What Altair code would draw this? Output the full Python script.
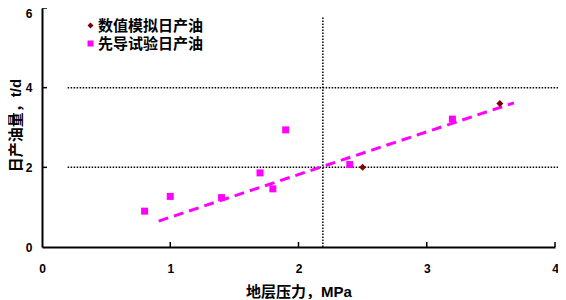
import altair as alt
import pandas as pd

series_names = ["数值模拟日产油", "先导试验日产油"]
sim_x = [2.5, 3.57]
sim_y = [2.0, 3.6]
pilot_x = [0.8, 1.0, 1.4, 1.7, 1.8, 1.9, 2.4, 3.2]
pilot_y = [0.9, 1.27, 1.24, 1.86, 1.46, 2.94, 2.07, 3.21]
trend_x = [0.91, 3.68]
trend_y = [0.65, 3.62]
hline_y = [2, 4]
hline_x = [0.2, 4.1]
vline_x = 2.19
vline_y = [0, 5.8]
x_ticks = [0, 1, 2, 3, 4]
y_ticks = [0, 2, 4, 6]
x_minor = [1, 2, 3, 4]
y_minor = [2, 4, 6]

FONT = "Liberation Sans, Arial, Noto Sans CJK SC, sans-serif"
MAG = "#FF00FF"
DRED = "#800000"

pts = pd.DataFrame({
    "x": sim_x + pilot_x,
    "y": sim_y + pilot_y,
    "s": [series_names[0]] * len(sim_x) + [series_names[1]] * len(pilot_x),
})
hl = pd.DataFrame({"y": hline_y, "x": [hline_x[0]] * 2, "x2": [hline_x[1]] * 2})
vl = pd.DataFrame({"x": [vline_x], "y": [vline_y[0]], "y2": [vline_y[1]]})
tr = pd.DataFrame({"x": trend_x, "y": trend_y})
xt = pd.DataFrame({"x": x_minor})
yt = pd.DataFrame({"y": y_minor})

xs = alt.Scale(domain=[0, 4], nice=False, zero=False)
ys = alt.Scale(domain=[0, 6], nice=False)

x_axis = alt.Axis(
    values=x_ticks, title="地层压力，MPa", grid=False,
    domainColor="black", domainWidth=2, ticks=False, tickSize=0,
    labelPadding=21, labelBaseline="middle", labelFont=FONT, labelFontSize=12,
    labelFontWeight="bold", labelColor="black", labelFlush=False, labelOverlap=False,
    titleFont=FONT, titleFontSize=15, titleFontWeight="bold", titleColor="black",
    titleY=44, titleBaseline="middle",
)
y_axis = alt.Axis(
    values=y_ticks, title="日产油量，t/d", grid=False,
    domainColor="black", domainWidth=2, ticks=False, tickSize=0,
    labelPadding=10, labelAlign="right",
    labelBaseline={"condition": {"test": "datum.value == 6", "value": "top"}, "value": "middle"},
    labelFont=FONT, labelFontSize=12, labelFontWeight="bold", labelColor="black",
    labelFlush=False, labelOverlap=False,
    titleFont=FONT, titleFontSize=15, titleFontWeight="bold", titleColor="black",
    titleX=-27, titleY=117, titleAngle=270, titleBaseline="middle", titleAlign="center",
)

X = alt.X("x:Q", scale=xs, axis=x_axis)
Y = alt.Y("y:Q", scale=ys, axis=y_axis)

legend = alt.Legend(
    title=None, orient="none", legendX=41, legendY=10, padding=0,
    labelFont=FONT, labelFontSize=15, labelFontWeight="bold", labelColor="black",
    symbolSize=36, labelOffset=0, rowPadding=2, symbolStrokeWidth=0,
)

hlines = alt.Chart(hl).mark_rule(color="black", strokeWidth=1.5, strokeDash=[1.5, 1.5]).encode(
    x=X, x2="x2:Q", y=Y)
vlines = alt.Chart(vl).mark_rule(color="black", strokeWidth=1.5, strokeDash=[1.5, 1.5]).encode(
    x=X, y=Y, y2="y2:Q")
trend = alt.Chart(tr).mark_line(color=MAG, strokeWidth=3, strokeDash=[10, 6]).encode(x=X, y=Y)
points = alt.Chart(pts).mark_point(filled=True, opacity=1, size=49).encode(
    x=X, y=Y,
    color=alt.Color("s:N", scale=alt.Scale(domain=series_names, range=[DRED, MAG]), legend=legend),
    shape=alt.Shape("s:N", scale=alt.Scale(domain=series_names, range=["diamond", "square"]), legend=legend),
)
xticks = alt.Chart(xt).mark_rule(color="black", strokeWidth=1.5).encode(
    x=X, y=alt.value(239), y2=alt.value(234))
yticks = alt.Chart(yt).mark_rule(color="black", strokeWidth=1.5).encode(
    y=Y, x=alt.value(0), x2=alt.value(5))

chart = alt.layer(hlines, vlines, trend, points, xticks, yticks).properties(
    width=513, height=239,
    autosize=alt.AutoSizeParams(type="none"),
    padding={"left": 34, "top": 0, "right": 3, "bottom": 52},
    background="white",
).configure_view(stroke=None)

chart.save("out.html", embed_options={"renderer": "svg", "actions": False})
